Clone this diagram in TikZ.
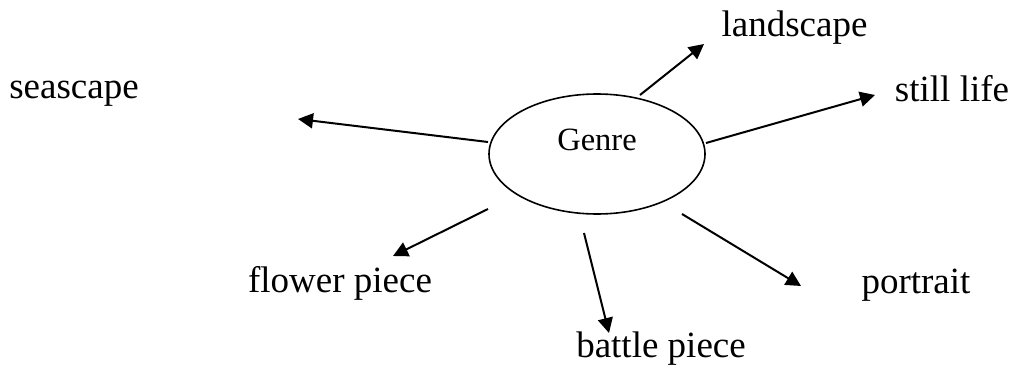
\documentclass[tikz,border=0pt]{standalone}
\usepackage{fontspec}
\setmainfont{Liberation Serif}
\usetikzlibrary{arrows.meta,shapes.geometric}
\tikzset{
  lbl/.style={inner sep=0pt, anchor=base, font=\fontsize{37}{40}\selectfont},
  arr/.style={line width=2pt, -{Triangle[length=15pt,width=15pt]}},
}
\begin{document}
\begin{tikzpicture}[x=1pt,y=-1pt]
\useasboundingbox (0,0) rectangle (1017,369);
\node[draw, ellipse, line width=1.6pt, minimum width=216pt, minimum height=120pt, inner sep=0pt] (g) at (597,154) {};
\node[inner sep=0pt, anchor=base, font=\fontsize{32.5}{34}\selectfont] (gt) at (597,150) {Genre};
\node[lbl] (sea) at (74,99) {seascape};
\node[lbl] (land) at (794.5,37) {landscape};
\node[lbl] (still) at (952,101) {still life};
\node[lbl] (flower) at (340,292) {flower piece};
\node[lbl] (battle) at (661,357) {battle piece};
\node[lbl] (portrait) at (916,293) {portrait};
\coordinate (s0) at (488,142); \coordinate (s1) at (298,119);
\coordinate (l0) at (640,95);  \coordinate (l1) at (704,44);
\coordinate (t0) at (706,143); \coordinate (t1) at (875,95);
\coordinate (f0) at (488,209); \coordinate (f1) at (393,256);
\coordinate (b0) at (584,233); \coordinate (b1) at (609,333);
\coordinate (p0) at (682,214); \coordinate (p1) at (801,286);
\draw[arr] (s0) -- (s1);
\draw[arr] (l0) -- (l1);
\draw[arr] (t0) -- (t1);
\draw[arr] (f0) -- (f1);
\draw[arr] (b0) -- (b1);
\draw[arr] (p0) -- (p1);
\end{tikzpicture}
\end{document}
